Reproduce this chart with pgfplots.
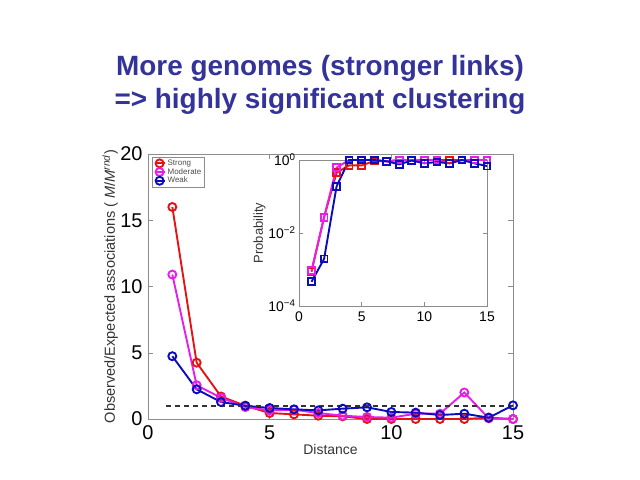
\documentclass[border=0pt]{standalone}
\usepackage{fontspec}
\setmainfont{Liberation Sans}
\usepackage{pgfplots}
\pgfplotsset{compat=1.18}
\definecolor{tcol}{RGB}{51,51,153}
\definecolor{cred}{RGB}{228,20,20}
\definecolor{cmag}{RGB}{232,30,232}
\definecolor{cblu}{RGB}{12,12,190}
\definecolor{axg}{RGB}{140,140,140}
\tikzset{ser/.style={#1, line width=1.9bp, mark options={solid, fill=white, line width=1.9bp}}}
\begin{document}
\begin{tikzpicture}
\useasboundingbox (0bp,0bp) rectangle (640bp,480bp);
\node[font=\fontsize{28}{33}\selectfont\bfseries, text=tcol, align=center] at (320bp,395bp) {More genomes (stronger links)\\=> highly significant clustering};
\begin{axis}[at={(148bp,61bp)}, anchor=south west, width=365bp, height=265bp, scale only axis,
  xmin=0, xmax=15, ymin=0, ymax=20, xtick={0,5,10,15}, ytick={0,5,10,15,20},
  tick align=inside, axis line style={axg}, tick style={axg, thin},
  major tick length=5bp,
  /pgf/number format/assume math mode=true,
  ticklabel style={font=\fontsize{20}{20}\selectfont},
  xticklabel style={yshift=-3bp}, yticklabel style={xshift=-2bp},
  xlabel={Distance}, ylabel={Observed/Expected associations ( \textit{M}/\textit{M}\textsuperscript{\textit{rnd}})},
  label style={text=black!80},
  xlabel style={font=\fontsize{14}{14}\selectfont, yshift=2bp}, ylabel style={font=\fontsize{14.6}{14.6}\selectfont, yshift=-4.5bp},
  clip=false,
  legend cell align=left,
  legend style={at={(rel axis cs:0.012,0.99)}, anchor=north west, font=\fontsize{8}{8}\selectfont, draw=axg, inner sep=1bp, row sep=-2.5bp, text=black!70},
  legend image code/.code={\draw[mark repeat=2,mark phase=2] plot coordinates {(0cm,0cm)(0.18cm,0cm)(0.36cm,0cm)};},
  every axis plot/.append style={mark=o, mark size=4bp},
]
\addplot[ser=cred] coordinates {(1,16.0)(2,4.25)(3,1.7)(4,1.0)(5,0.45)(6,0.35)(7,0.25)(8,0.2)(9,0)(10,0)(11,0)(12,0)(13,0)(14,0.1)(15,0)};
\addplot[ser=cmag] coordinates {(1,10.9)(2,2.55)(3,1.6)(4,0.9)(5,0.65)(6,0.7)(7,0.45)(8,0.25)(9,0.15)(10,0.1)(11,0.4)(12,0.4)(13,2.0)(14,0.05)(15,0)};
\addplot[ser=cblu] coordinates {(1,4.74)(2,2.24)(3,1.28)(4,1.0)(5,0.83)(6,0.73)(7,0.65)(8,0.78)(9,0.88)(10,0.53)(11,0.48)(12,0.3)(13,0.4)(14,0.1)(15,1.03)};
\legend{Strong,Moderate,Weak}
\addplot[black!80, line width=1.8bp, dash pattern=on 5bp off 4bp, mark=none, forget plot] coordinates {(0.75,1)(15,1)};
\end{axis}
\begin{axis}[at={(299bp,174bp)}, anchor=south west, width=188bp, height=146bp, scale only axis,
  xmin=0, xmax=15, ymode=log, ymin=1e-4, ymax=1, xtick={0,5,10,15},
  ytick={1e-4,1e-2,1}, yticklabels={10\textsuperscript{−4},10\textsuperscript{−2},10\textsuperscript{0}},
  minor ytick={}, 
  tick align=inside, axis line style={axg}, tick style={axg, thin},
  major tick length=4bp,
  /pgf/number format/assume math mode=true,
  ticklabel style={font=\fontsize{14}{14}\selectfont},
  xticklabel style={yshift=-2bp},
  ylabel={Probability}, label style={font=\fontsize{13}{13}\selectfont, text=black!80},
  ylabel style={yshift=-4bp},
  axis background/.style={fill=white},
  clip=false,
  every axis plot/.append style={mark=square, mark size=3.4bp},
]
\addplot[ser=cred] coordinates {(1,8.7e-4)(2,0.027)(3,0.45)(4,0.71)(5,0.71)(6,0.94)(7,0.92)(8,1.0)(9,0.97)(10,1.0)(11,1.0)(12,1.0)(13,1.0)(14,1.0)(15,1.0)};
\addplot[ser=cmag] coordinates {(1,9.5e-4)(2,0.027)(3,0.62)(4,1.0)(5,1.0)(6,1.0)(7,0.92)(8,1.0)(9,0.97)(10,1.0)(11,1.0)(12,0.81)(13,1.0)(14,1.0)(15,1.0)};
\addplot[ser=cblu] coordinates {(1,4.6e-4)(2,1.95e-3)(3,0.19)(4,1.0)(5,1.0)(6,1.0)(7,0.92)(8,0.76)(9,0.97)(10,0.81)(11,0.88)(12,0.81)(13,1.0)(14,0.81)(15,0.68)};
\end{axis}
\end{tikzpicture}
\end{document}
